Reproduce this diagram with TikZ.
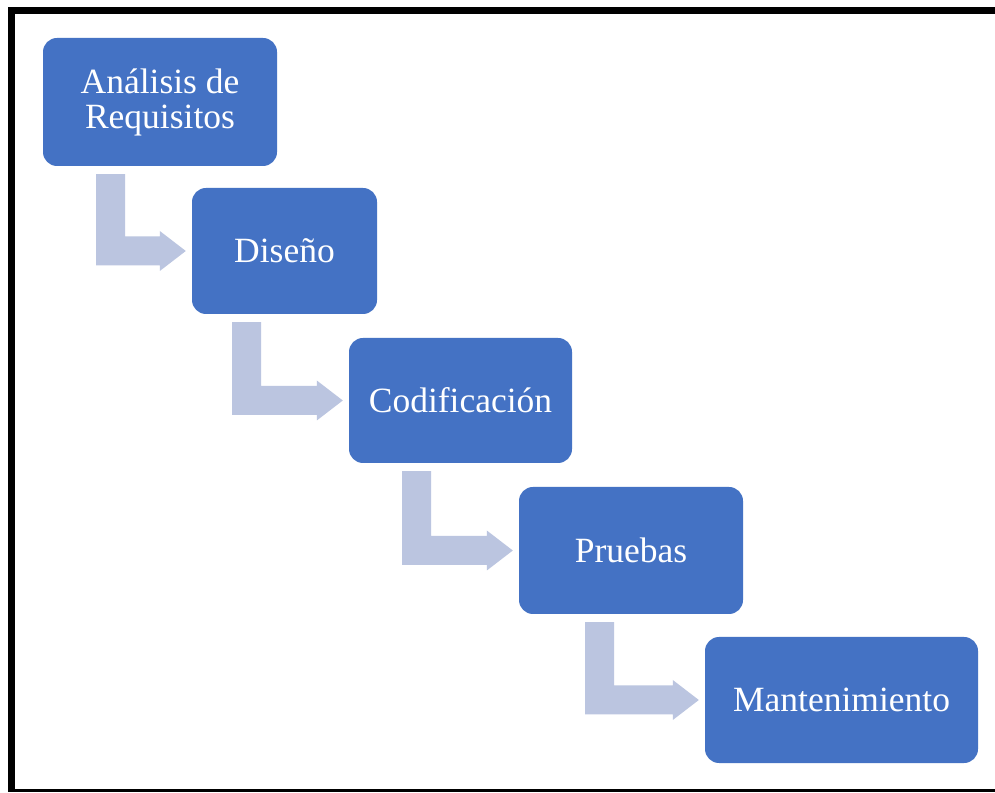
\documentclass[tikz,border=0pt]{standalone}
\usepackage{fontspec}
\setmainfont{Liberation Serif}
\usetikzlibrary{calc}
\definecolor{stageblue}{RGB}{68,114,196}
\definecolor{flowgray}{RGB}{187,197,224}
\tikzset{
  stage/.style={fill=stageblue, rounded corners=14pt, inner sep=0pt,
    text=white, font=\fontsize{35.5}{35}\selectfont, align=center},
  conn/.style={fill=flowgray}
}
% bent block arrow: from the bottom of #1 down, then right into the west side of #2;
% #3 is the left edge of the vertical stem
\newcommand\bentflow[3]{%
  \fill[conn] let \p1=(#1.south), \p2=(#2.west) in
    (#3pt,\y1-8pt) -- (#3pt+29pt,\y1-8pt) -- (#3pt+29pt,\y2+14.5pt)
    -- (\x2-32pt,\y2+14.5pt) -- (\x2-32pt,\y2+20pt) -- (\x2-6pt,\y2)
    -- (\x2-32pt,\y2-20pt) -- (\x2-32pt,\y2-14.5pt) -- (#3pt,\y2-14.5pt) -- cycle;}
\begin{document}
\begin{tikzpicture}[x=1pt,y=1pt]
  \fill[white] (0,0) rectangle (995,792);
  \useasboundingbox (0,0) rectangle (995,792);
  % frame
  \fill[black] (8,778) rectangle (995,785);
  \fill[black] (8,0) rectangle (15,785);
  \fill[black] (8,0) rectangle (995,3);
  % stages
  \node[stage, minimum width=234pt, minimum height=128pt] (req) at (160,690) {Análisis de\\Requisitos};
  \node[stage, minimum width=185pt, minimum height=126pt] (dis) at (284.5,541) {Diseño};
  \node[stage, minimum width=223pt, minimum height=125pt] (cod) at (460.5,391.5) {Codificación};
  \node[stage, minimum width=224pt, minimum height=127pt] (pru) at (631,241.5) {Pruebas};
  \node[stage, minimum width=273pt, minimum height=126pt] (man) at (841.5,92) {Mantenimiento};
  % flow arrows
  \bentflow{req}{dis}{96}
  \bentflow{dis}{cod}{232}
  \bentflow{cod}{pru}{402}
  \bentflow{pru}{man}{585}
\end{tikzpicture}
\end{document}
